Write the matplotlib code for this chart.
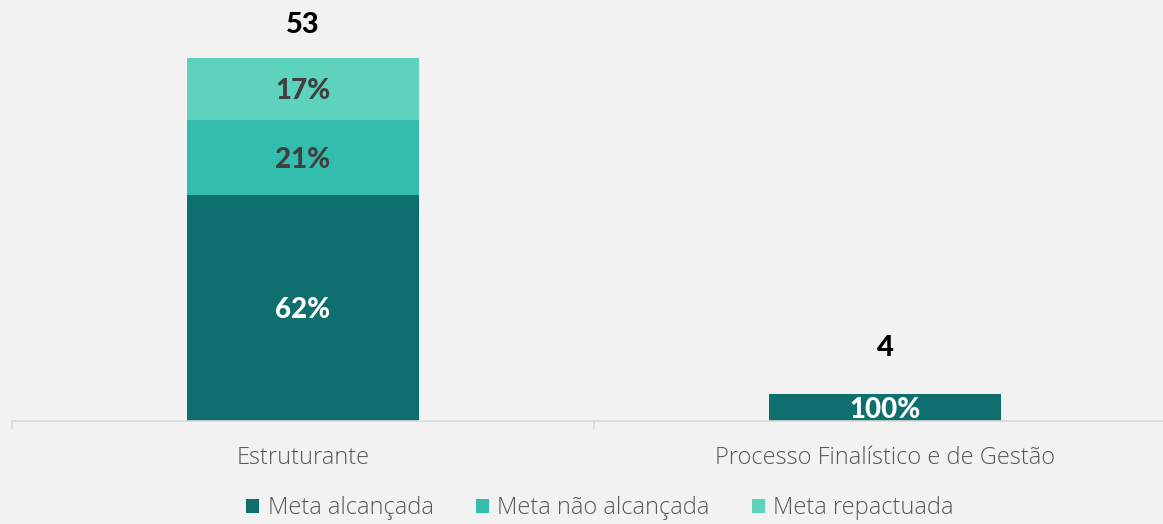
import matplotlib.pyplot as plt
from matplotlib.patches import Patch
import numpy as np

categories = ['Estruturante', 'Processo Finalístico e de Gestão']
series_names = ['Meta alcançada', 'Meta não alcançada', 'Meta repactuada']
meta_alcancada = [33, 4]
meta_nao_alcancada = [11, 0]
meta_repactuada = [9, 0]

colors = ['#0F6E6E', '#33BDAC', '#5DD3BD']
label_colors = ['white', '#404040', '#404040']
total_offsets = [25.5, 34.5]  # points above bar top

bg = '#F2F2F2'
fig = plt.figure(figsize=(11.63, 5.24), dpi=100, facecolor=bg)
ax = fig.add_axes([12 / 1163, 103 / 524, 1164 / 1163, 421 / 524], facecolor=bg)

series = [meta_alcancada, meta_nao_alcancada, meta_repactuada]
totals = np.sum(series, axis=0)
x = np.arange(len(categories))
bottom = np.zeros(len(categories))

for vals, col, lcol in zip(series, colors, label_colors):
    vals = np.array(vals, dtype=float)
    ax.bar(x, vals, width=0.4, bottom=bottom, color=col, edgecolor='none')
    for i, v in enumerate(vals):
        if v > 0:
            pct = round(100 * v / totals[i])
            ax.text(x[i], bottom[i] + v / 2, f'{pct}%', ha='center', va='center_baseline',
                    color=lcol, fontsize=20, fontweight='black', family='Lato')
    bottom += vals

for i, t in enumerate(totals):
    ax.annotate(str(t), (x[i], t), xytext=(0, total_offsets[i]), textcoords='offset points',
                ha='center', va='center_baseline', fontsize=21, fontweight='black',
                family='Lato', color='black')

ax.set_xlim(-0.5, 1.5)
ax.set_ylim(0, 421 / 6.849)

for s in ['top', 'right', 'left']:
    ax.spines[s].set_visible(False)
ax.spines['bottom'].set_color('#D9D9D9')
ax.spines['bottom'].set_linewidth(1.2)
ax.set_yticks([])

ax.set_xticks(x)
ax.set_xticklabels(categories, fontsize=17, color='#595959', family='Open Sans',
                   fontweight='light')
ax.tick_params(axis='x', which='major', length=0, pad=18)
ax.set_xticks([-0.5, 0.5, 1.5], minor=True)
ax.tick_params(axis='x', which='minor', length=6, color='#D9D9D9', width=1.2)

# legend sits at the very bottom; nudged up so descenders are not clipped
handles = [Patch(facecolor=c, edgecolor='none') for c in colors]
fig.legend(handles, series_names, loc='center', bbox_to_anchor=(0.516, 0.03), ncol=3,
           frameon=False, handlelength=0.55, handleheight=0.55, handletextpad=0.35,
           columnspacing=1.8, prop={'family': 'Open Sans', 'size': 17, 'weight': 'light'},
           labelcolor='#595959')

fig.savefig('out.png', dpi=100, facecolor=bg)
